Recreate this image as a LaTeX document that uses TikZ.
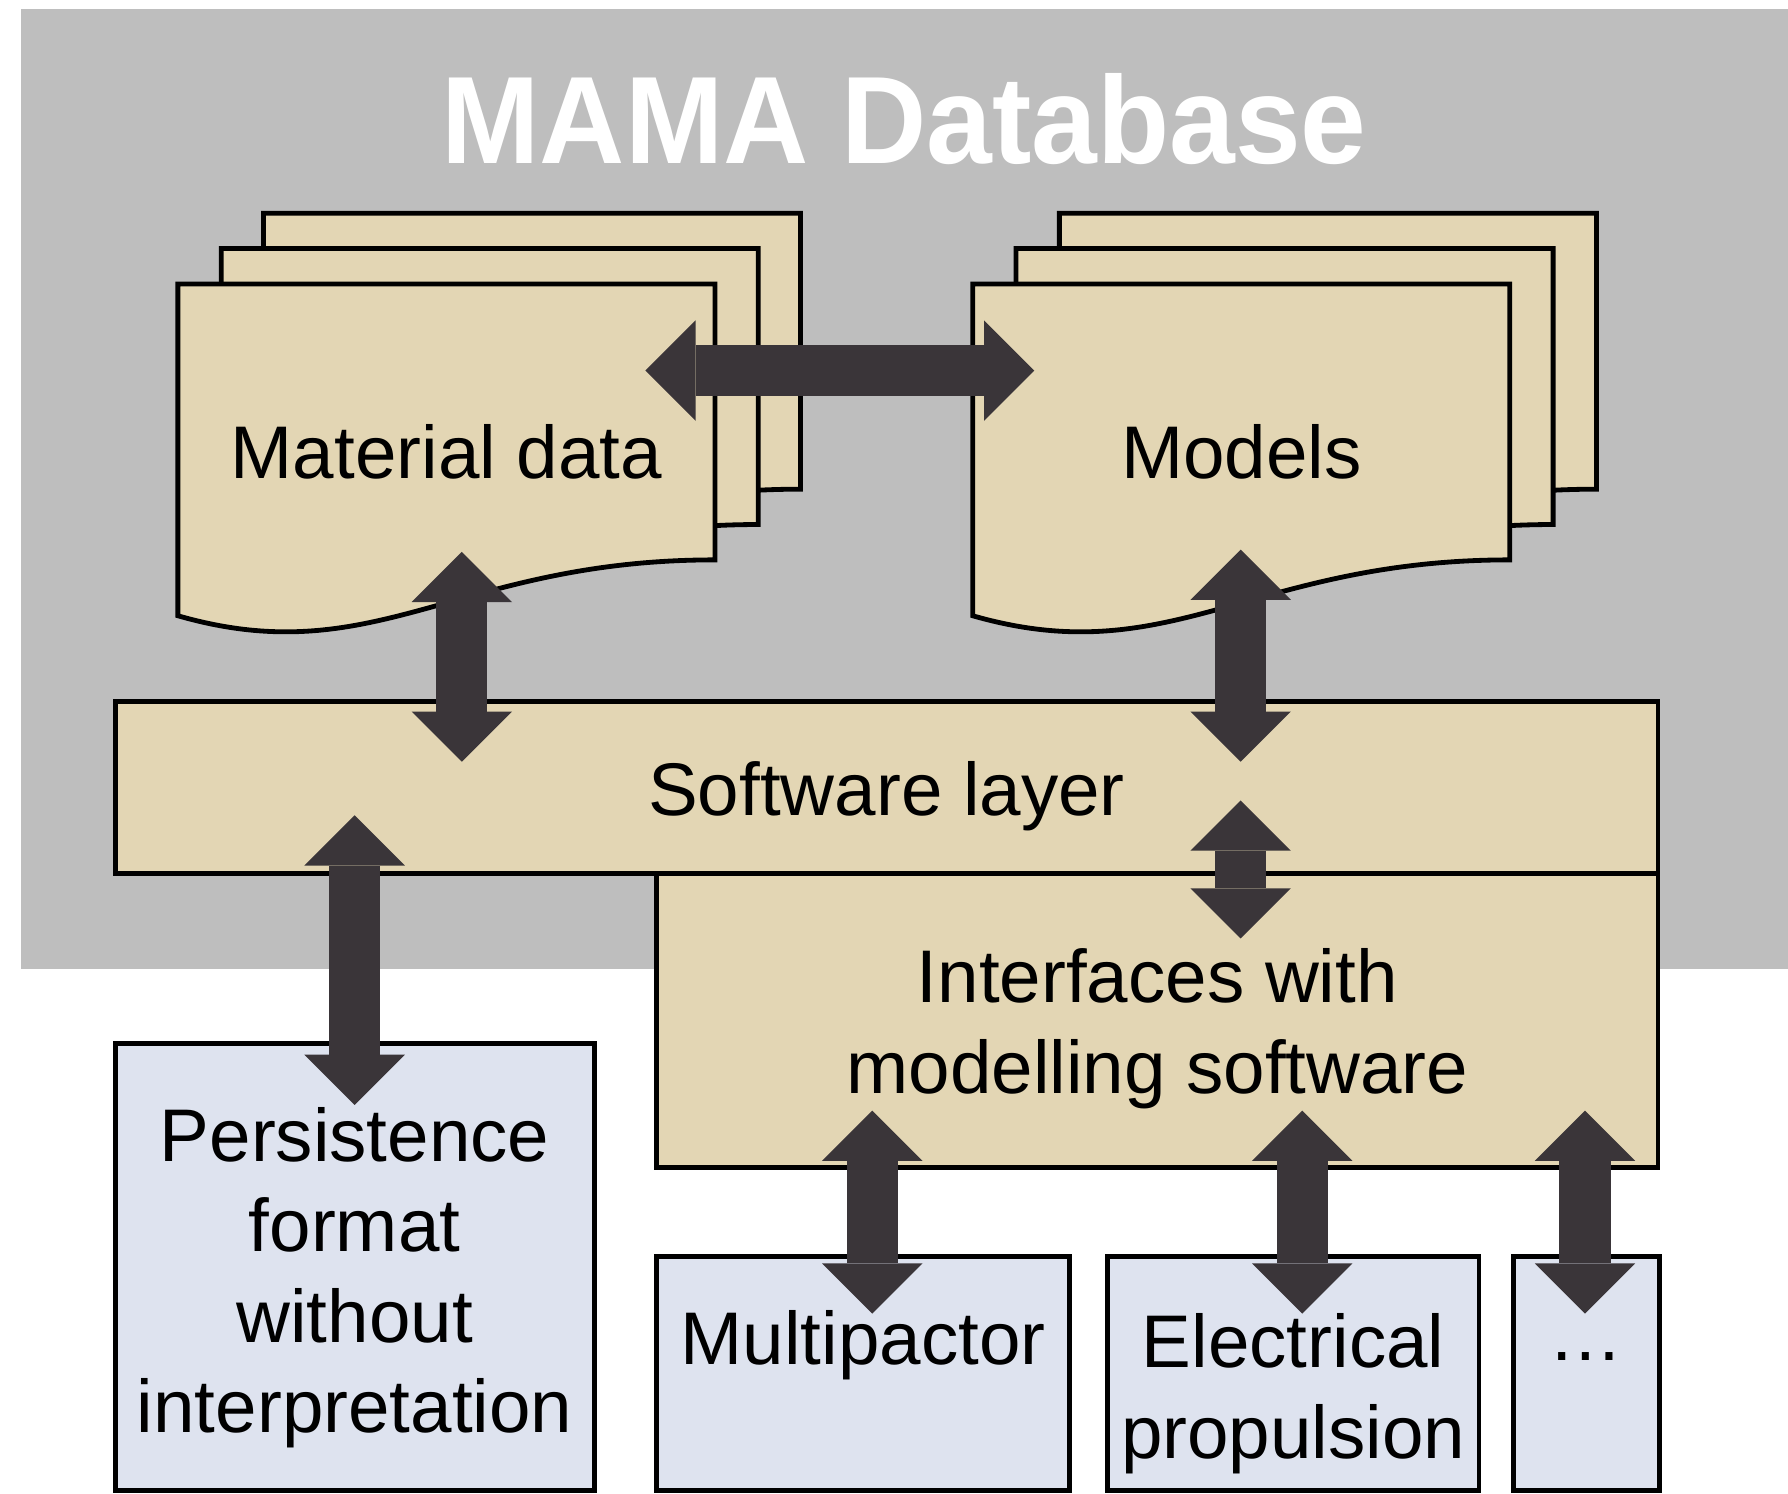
\documentclass[tikz,border=0pt]{standalone}
\usepackage{fontspec}
\usepackage{graphicx}
\setmainfont{Liberation Sans}
\usetikzlibrary{arrows.meta,fit}

\definecolor{bggray}{RGB}{190,190,190}
\definecolor{paper}{RGB}{227,214,180}
\definecolor{paleblue}{RGB}{222,227,239}
\definecolor{arrowdark}{RGB}{58,53,57}

\tikzset{
  outline/.style={draw=black, line width=1.2pt, line join=miter},
  tanbox/.style={outline, fill=paper, inner sep=0pt},
  bluebox/.style={outline, fill=paleblue, inner sep=0pt},
  % labels are placed by the baseline of their last line
  lbl/.style={font=\fontsize{18.6}{22.6}\selectfont, inner sep=0pt, anchor=base, align=center},
  fathead/.tip={Triangle[length=0.44cm, width=0.88cm, line width=0pt]},
  fatarrow/.style={color=arrowdark, line width=0.45cm, fathead-fathead},
  % one sheet of a document stack, origin at its top left corner
  docpage/.pic={
    \path[tanbox] (0,0) -- (471,0) -- (471,242)
      .. controls (244,242) and (174,341) .. (0,291) -- cycle;
  }
}

\begin{document}
\begin{tikzpicture}[x=0.01cm, y=-0.01cm]
\useasboundingbox (0,0) rectangle (1568,1310);
\fill[white] (0,0) rectangle (1568,1310);

% database area
\fill[bggray] (18,8) rectangle (1568,850);
\node[font=\bfseries\fontsize{31}{36}\selectfont, text=white, anchor=base, inner sep=0pt]
  (title) at (793,143) {\scalebox{0.95}[1]{MAMA Database}};

% material data stack
\pic at (231,187) {docpage};
\pic at (194,218) {docpage};
\pic at (156,249) {docpage};
\node[lbl] (matdata) at (391.5,420) {Material data};

% models stack
\pic at (929,187) {docpage};
\pic at (891,218) {docpage};
\pic at (853,249) {docpage};
\node[lbl] (models) at (1088.5,420) {Models};

% layers and external tools
\node[tanbox, fit={(101,615) (1454,766)}] (swlayer) {};
\node[tanbox, fit={(576,766) (1454,1024)}] (iface) {};
\node[bluebox, fit={(101,915) (521,1307)}] (persist) {};
\node[bluebox, fit={(576,1102) (938,1307)}] (multi) {};
\node[bluebox, fit={(971,1102) (1297,1307)}] (elec) {};
\node[bluebox, fit={(1327,1102) (1455,1307)}] (more) {};

\node[lbl] (swtext) at (777.5,715.6) {Software layer};
\node[lbl] (iftext) at (1015,959) {Interfaces with\\modelling software};
\node[lbl] (pstext) at (311,1256.6) {Persistence\\format\\without\\interpretation};
\node[lbl] (mptext) at (757,1196.4) {Multipactor};
\node[lbl] (eltext) at (1134,1279) {Electrical\\propulsion};
\node[lbl] (mrtext) at (1391,1193) {…};

% arrow end points
\coordinate (md-r) at (566,325);   \coordinate (mo-l) at (907,325);
\coordinate (md-b) at (405,484);   \coordinate (sw-ml) at (405,668);
\coordinate (mo-b) at (1088,482);  \coordinate (sw-mr) at (1088,668);
\coordinate (sw-b) at (1088,702);  \coordinate (if-t) at (1088,823);
\coordinate (sw-bl) at (311,715);  \coordinate (ps-t) at (311,969);
\coordinate (if-b1) at (765,974);  \coordinate (mp-t) at (765,1152);
\coordinate (if-b2) at (1142,974); \coordinate (el-t) at (1142,1152);
\coordinate (if-b3) at (1390,974); \coordinate (mr-t) at (1390,1152);

% two-way connectors
\draw[fatarrow] (md-r) -- (mo-l);
\draw[fatarrow] (md-b) -- (sw-ml);
\draw[fatarrow] (mo-b) -- (sw-mr);
\draw[fatarrow] (sw-b) -- (if-t);
\draw[fatarrow] (sw-bl) -- (ps-t);
\draw[fatarrow] (if-b1) -- (mp-t);
\draw[fatarrow] (if-b2) -- (el-t);
\draw[fatarrow] (if-b3) -- (mr-t);
\end{tikzpicture}
\end{document}
